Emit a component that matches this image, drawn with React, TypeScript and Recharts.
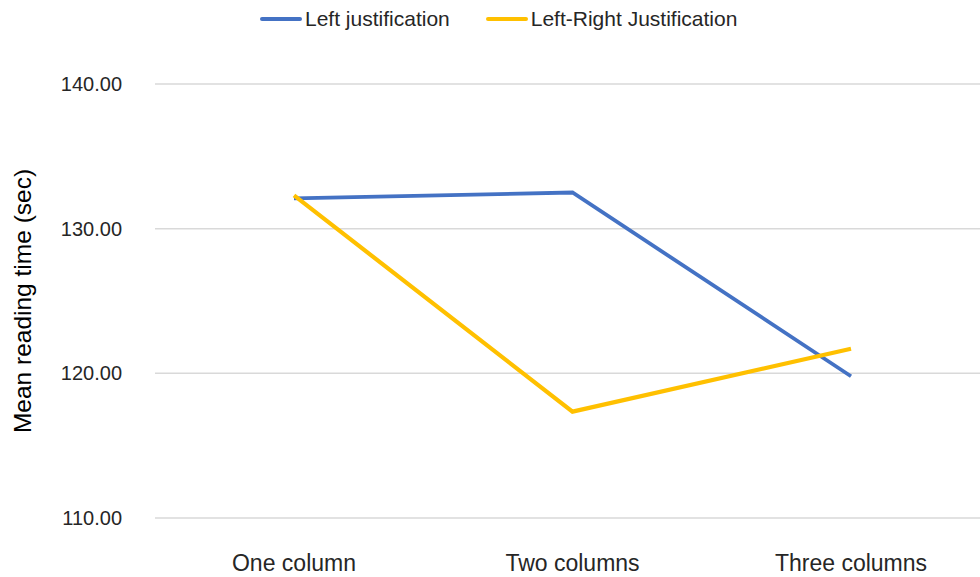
import { LineChart, Line, XAxis, YAxis, CartesianGrid, Legend } from 'recharts';

const categories = ['One column', 'Two columns', 'Three columns'];
const leftJustification = [132.1, 132.5, 119.8];
const leftRightJustification = [132.3, 117.35, 121.7];
const yTicks = [110, 120, 130, 140];

const seriesNames = ['Left justification', 'Left-Right Justification'];
const seriesColors = ['#4472C4', '#FFC000'];

const chartData = categories.map((name, i) => ({
  name,
  left: leftJustification[i],
  leftRight: leftRightJustification[i],
}));

const FONT = '"Liberation Sans", Arial, sans-serif';

// Legend drawn in a fixed-height strip at the very top
const LegendContent = () => (
  <div
    style={{
      height: 38,
      display: 'flex',
      alignItems: 'center',
      fontFamily: FONT,
      fontSize: 21,
      color: '#262626',
    }}
  >
    {seriesNames.map((label, i) => (
      <div
        key={label}
        style={{ display: 'flex', alignItems: 'center', marginLeft: i === 0 ? 260 : 36 }}
      >
        <span
          style={{
            display: 'inline-block',
            width: 42,
            height: 4,
            borderRadius: 2,
            background: seriesColors[i],
            marginRight: 3,
          }}
        />
        <span>{label}</span>
      </div>
    ))}
  </div>
);

export default function App() {
  return (
    <div
      style={{
        position: 'absolute',
        top: 0,
        left: 0,
        width: 980,
        height: 577,
        overflow: 'hidden',
        background: '#ffffff',
      }}
    >
      <LineChart
        width={990}
        height={577}
        data={chartData}
        margin={{ top: 46, right: 0, left: 0, bottom: 0 }}
      >
        <CartesianGrid vertical={false} stroke="#d9d9d9" strokeWidth={1.5} />
        <XAxis
          dataKey="name"
          axisLine={false}
          tickLine={false}
          height={59}
          tickMargin={31}
          padding={{ left: 139, right: 139 }}
          tick={{ fill: '#262626', fontSize: 23, fontFamily: FONT }}
        />
        <YAxis
          width={155}
          domain={[110, 140]}
          ticks={yTicks}
          axisLine={false}
          tickLine={false}
          tickMargin={27}
          tickFormatter={(v: number) => v.toFixed(2)}
          tick={{ fill: '#262626', fontSize: 20, fontFamily: FONT }}
          label={{
            value: 'Mean reading time (sec)',
            angle: -90,
            position: 'insideLeft',
            offset: 22,
            style: { textAnchor: 'middle', fill: '#000000', fontSize: 24.5, fontFamily: FONT },
          }}
        />
        <Legend verticalAlign="top" content={<LegendContent />} wrapperStyle={{ top: 0, left: 0 }} />
        <Line
          type="linear"
          dataKey="left"
          name={seriesNames[0]}
          stroke={seriesColors[0]}
          strokeWidth={3.8}
          dot={false}
          isAnimationActive={false}
        />
        <Line
          type="linear"
          dataKey="leftRight"
          name={seriesNames[1]}
          stroke={seriesColors[1]}
          strokeWidth={4.2}
          dot={false}
          isAnimationActive={false}
        />
      </LineChart>
    </div>
  );
}
